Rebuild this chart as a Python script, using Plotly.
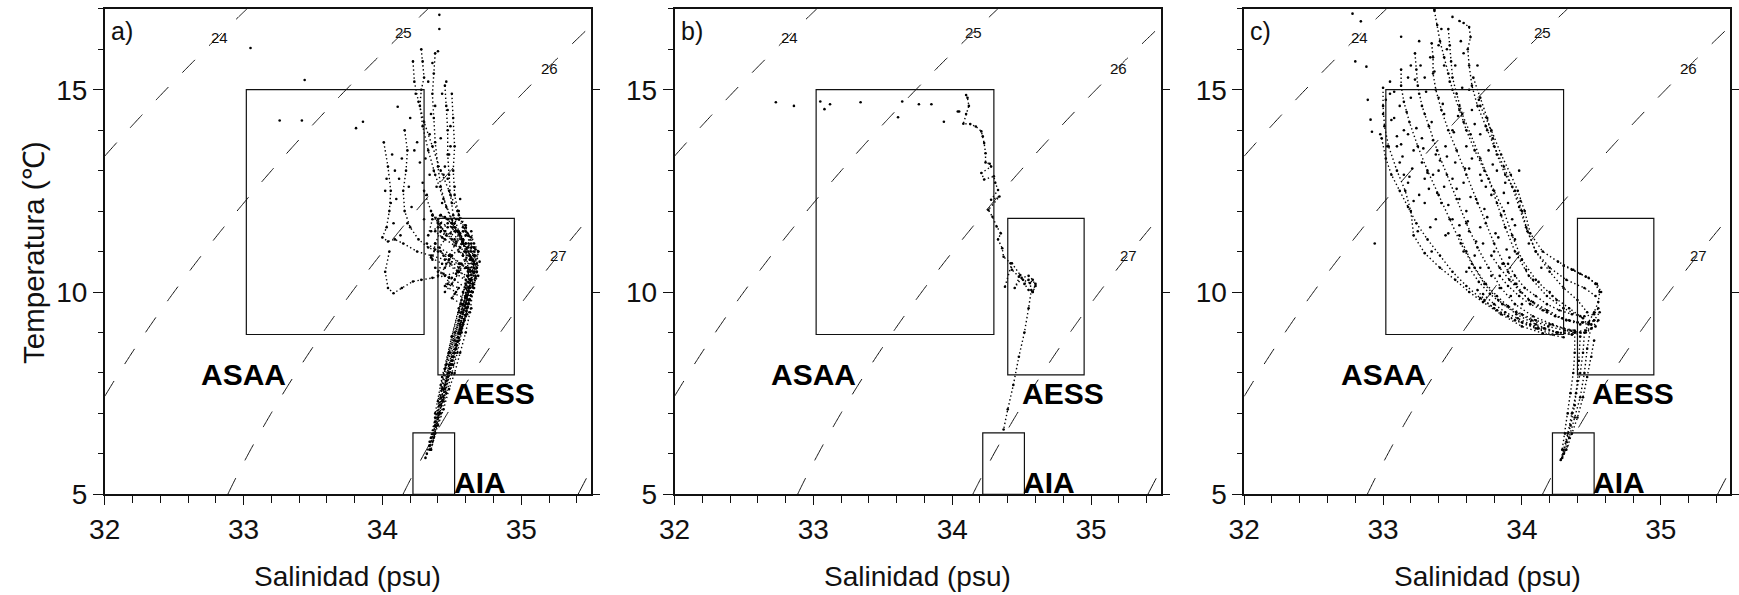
import numpy as np
import plotly.graph_objects as go

# ---------------------------------------------------------------- axes
S_RANGE = [32, 35.5]
T_RANGE = [5, 17]
S_TICKS = [32, 33, 34, 35]
T_TICKS = [5, 10, 15]
SIGMA_LEVELS = [24, 25, 26, 27, 28]

# isopycnal labels (sigma-t)
sigma_label_text = ["24", "25", "26", "27"]
sigma_label_S = [32.83, 34.15, 35.20, 35.27]
sigma_label_T = [16.28, 16.42, 15.52, 10.89]

# water masses: boxes and labels
mass_names = ["ASAA", "AESS", "AIA"]
mass_S_min = [33.02, 34.40, 34.22]
mass_S_max = [34.30, 34.95, 34.52]
mass_T_min = [8.95, 7.95, 5.00]
mass_T_max = [15.00, 11.82, 6.52]
mass_label_S = [33.00, 34.80, 34.70]
mass_label_T = [7.97, 7.49, 5.28]

panel_tags = ["a)", "b)", "c)"]

# ---------------------------------------------------------------- CTD casts (salinity, temperature)
casts_a = [
    ([34.28, 34.29, 34.30, 34.28, 34.27, 34.29, 34.33, 34.38, 34.44, 34.50, 34.56, 34.60, 34.62, 34.60, 34.56, 34.50, 34.44, 34.39, 34.35],
     [16.0, 15.7, 15.3, 15.0, 14.6, 14.1, 13.5, 12.9, 12.3, 11.8, 11.4, 11.0, 10.5, 9.9, 9.1, 8.2, 7.4, 6.7, 6.1]),
    ([34.38, 34.37, 34.36, 34.37, 34.38, 34.40, 34.42, 34.46, 34.52, 34.58, 34.63, 34.64, 34.60, 34.53, 34.46, 34.41, 34.37],
     [15.9, 15.4, 14.9, 14.3, 13.7, 13.1, 12.6, 12.1, 11.6, 11.2, 10.8, 10.3, 9.6, 8.7, 7.8, 7.0, 6.4]),
    ([34.45, 34.46, 34.47, 34.47, 34.48, 34.49, 34.51, 34.55, 34.60, 34.66, 34.68, 34.64, 34.58, 34.50, 34.44],
     [15.1, 14.6, 14.0, 13.4, 12.9, 12.4, 11.9, 11.5, 11.2, 11.0, 10.6, 10.0, 9.2, 8.2, 7.3]),
    ([34.50, 34.51, 34.52, 34.51, 34.52, 34.55, 34.60, 34.64, 34.66, 34.62, 34.55, 34.47],
     [14.9, 14.3, 13.6, 13.0, 12.4, 11.9, 11.5, 11.1, 10.7, 10.0, 9.0, 8.0]),
    ([34.16, 34.18, 34.17, 34.15, 34.16, 34.20, 34.26, 34.33, 34.40, 34.48, 34.56, 34.62, 34.63, 34.58],
     [14.0, 13.5, 13.0, 12.5, 12.0, 11.6, 11.3, 11.1, 11.0, 10.9, 10.7, 10.5, 10.1, 9.5]),
    ([34.01, 34.04, 34.06, 34.05, 34.03, 34.00, 34.04, 34.09, 34.15, 34.25, 34.35, 34.45, 34.55, 34.61],
     [13.7, 13.1, 12.5, 12.0, 11.6, 11.35, 11.25, 11.3, 11.2, 11.0, 10.9, 10.8, 10.7, 10.6]),
    ([34.05, 34.02, 34.04, 34.08, 34.14, 34.22, 34.28, 34.36, 34.45, 34.54, 34.60],
     [11.0, 10.5, 10.1, 9.97, 10.1, 10.26, 10.3, 10.35, 10.4, 10.5, 10.6]),
    ([34.22, 34.23, 34.26, 34.30, 34.36, 34.42, 34.48, 34.54, 34.60, 34.64, 34.62, 34.57, 34.50, 34.43, 34.38],
     [15.7, 15.2, 14.7, 14.2, 13.6, 13.0, 12.5, 12.0, 11.6, 11.2, 10.6, 9.8, 8.9, 7.9, 7.0]),
    ([34.36, 34.40, 34.45, 34.52, 34.60, 34.66, 34.69, 34.66, 34.60, 34.55, 34.50, 34.45, 34.42, 34.38, 34.35, 34.32],
     [11.9, 11.7, 11.5, 11.3, 11.2, 11.1, 11.0, 10.6, 10.2, 9.6, 8.9, 8.1, 7.4, 6.8, 6.4, 6.0]),
    ([34.33, 34.36, 34.42, 34.50, 34.58, 34.63, 34.65, 34.60, 34.52, 34.46, 34.40],
     [11.4, 11.8, 11.9, 11.7, 11.3, 10.9, 10.5, 9.9, 9.0, 8.2, 7.3]),
    ([34.40, 34.45, 34.50, 34.56, 34.60, 34.64, 34.66, 34.63, 34.57, 34.49, 34.43, 34.38, 34.34],
     [10.4, 10.6, 10.9, 11.1, 11.4, 11.5, 11.1, 10.3, 9.5, 8.5, 7.6, 6.9, 6.3]),
    ([34.30, 34.35, 34.42, 34.50, 34.58, 34.62, 34.61, 34.56, 34.50, 34.44],
     [12.5, 12.0, 11.6, 11.3, 10.9, 10.4, 9.9, 9.2, 8.4, 7.6]),
    ([34.45, 34.50, 34.55, 34.60, 34.64, 34.67, 34.62, 34.55],
     [10.0, 10.2, 10.5, 10.8, 11.0, 10.9, 10.0, 9.0]),
    ([34.38, 34.42, 34.48, 34.55, 34.60, 34.60, 34.55, 34.48, 34.42],
     [11.2, 11.0, 10.8, 10.6, 10.3, 9.9, 9.3, 8.5, 7.7]),
    ([34.55, 34.58, 34.62, 34.66, 34.69, 34.68, 34.64, 34.60, 34.56, 34.52, 34.48, 34.44, 34.40, 34.37, 34.34],
     [11.8, 11.6, 11.4, 11.2, 11.0, 10.7, 10.3, 9.9, 9.4, 8.8, 8.2, 7.6, 7.0, 6.5, 6.1]),
    ([34.42, 34.47, 34.52, 34.57, 34.62, 34.65, 34.67, 34.64, 34.59, 34.53, 34.47, 34.42],
     [11.9, 11.8, 11.6, 11.3, 11.0, 10.8, 10.4, 9.9, 9.3, 8.6, 7.9, 7.2]),
    ([34.36, 34.38, 34.42, 34.47, 34.52, 34.58, 34.63, 34.66, 34.62, 34.56, 34.50, 34.45, 34.40, 34.36],
     [10.8, 11.2, 11.5, 11.7, 11.5, 11.2, 10.9, 10.5, 9.8, 9.0, 8.3, 7.6, 6.9, 6.3]),
    ([34.50, 34.54, 34.58, 34.62, 34.66, 34.68, 34.65, 34.61, 34.57, 34.52, 34.47],
     [11.7, 11.5, 11.3, 11.1, 10.9, 10.5, 10.0, 9.6, 9.1, 8.5, 7.9]),
    ([34.35, 34.40, 34.46, 34.53, 34.59, 34.64, 34.68, 34.66, 34.62, 34.58, 34.53, 34.48, 34.43, 34.38, 34.34, 34.31],
     [11.5, 11.6, 11.4, 11.2, 11.0, 10.8, 10.5, 10.1, 9.7, 9.2, 8.6, 8.0, 7.3, 6.7, 6.2, 5.9]),
    ([34.44, 34.49, 34.55, 34.61, 34.65, 34.63, 34.59, 34.55, 34.51],
     [10.9, 10.7, 10.5, 10.4, 10.2, 9.8, 9.3, 8.8, 8.2]),
    ([34.36, 34.42, 34.38, 34.45, 34.41, 34.50, 34.46, 34.55, 34.52, 34.60],
     [11.9, 11.7, 11.5, 11.3, 11.1, 10.9, 10.7, 10.5, 10.3, 10.1]),
    ([34.40, 34.47, 34.43, 34.52, 34.48, 34.57, 34.53, 34.62, 34.58, 34.63],
     [11.8, 11.6, 11.35, 11.15, 10.9, 10.7, 10.45, 10.25, 10.0, 9.8]),
    ([34.45, 34.52, 34.49, 34.58, 34.55, 34.64, 34.60, 34.67, 34.62, 34.60],
     [11.85, 11.7, 11.45, 11.25, 11.0, 10.85, 10.6, 10.35, 10.1, 9.7]),
    ([34.32, 34.38, 34.35, 34.43, 34.40, 34.48, 34.45, 34.53, 34.50, 34.57, 34.55],
     [11.2, 11.05, 10.85, 10.7, 10.5, 10.35, 10.15, 10.0, 9.85, 9.7, 9.5]),
    ([34.50, 34.56, 34.53, 34.61, 34.58, 34.66, 34.63, 34.69, 34.65],
     [11.6, 11.45, 11.25, 11.1, 10.9, 10.75, 10.55, 10.4, 10.15]),
    ([34.38, 34.44, 34.50, 34.47, 34.55, 34.52, 34.60, 34.57, 34.64, 34.61],
     [10.6, 10.45, 10.35, 10.2, 10.1, 9.95, 9.85, 9.7, 9.6, 9.45]),
    ([34.55, 34.60, 34.58, 34.64, 34.62, 34.67, 34.66, 34.70, 34.68],
     [11.8, 11.65, 11.5, 11.35, 11.2, 11.05, 10.9, 10.75, 10.6]),
    ([34.62, 34.60, 34.57, 34.54, 34.50, 34.46, 34.42, 34.38, 34.35],
     [9.8, 9.4, 9.0, 8.5, 8.0, 7.5, 7.0, 6.5, 6.1]),
    ([34.58, 34.56, 34.53, 34.49, 34.45, 34.41, 34.38, 34.34],
     [9.7, 9.2, 8.7, 8.2, 7.7, 7.2, 6.7, 6.2]),
    ([34.65, 34.63, 34.60, 34.56, 34.52, 34.48, 34.44, 34.40],
     [10.0, 9.5, 9.0, 8.5, 8.0, 7.6, 7.1, 6.7]),
]
dots_a_S = [33.05, 33.44, 33.26, 33.42, 33.81, 33.86, 34.11, 34.41, 34.41, 34.40, 34.36, 34.33, 34.35, 34.42,
            34.43, 34.46, 34.47, 34.49, 34.34, 34.31, 34.12, 34.10, 34.14, 34.19, 34.21, 34.09, 34.06, 34.03,
            34.20, 34.25, 34.47, 34.50, 34.53, 34.45, 34.39, 34.30, 34.18, 34.24, 34.27, 34.32, 34.34, 34.38,
            34.44, 34.48, 34.52, 34.55, 34.13, 34.08, 34.02, 34.07, 34.23, 34.29, 34.37, 34.43, 34.49, 34.56]
dots_a_T = [16.03, 15.24, 14.24, 14.24, 14.05, 14.21, 14.58, 16.85, 16.50, 15.95, 15.66, 15.20, 14.40, 13.80,
            14.90, 15.20, 14.50, 13.60, 12.90, 13.30, 12.80, 12.30, 13.30, 12.60, 12.10, 13.00, 12.20, 12.80,
            14.30, 13.70, 12.80, 12.20, 11.80, 13.10, 12.60, 11.80, 11.70, 14.90, 13.20, 12.40, 13.90, 14.60,
            12.90, 13.40, 12.60, 12.00, 11.40, 11.70, 12.50, 13.40, 13.50, 12.70, 13.00, 12.20, 14.10, 12.30]

casts_b = [
    ([34.10, 34.11, 34.12, 34.10, 34.08, 34.13, 34.17, 34.21, 34.22, 34.23, 34.24, 34.24, 34.27, 34.28, 34.21, 34.23,
      34.30, 34.31, 34.33, 34.28, 34.34, 34.26, 34.29, 34.32, 34.35, 34.33, 34.36, 34.37, 34.42, 34.43, 34.48, 34.51,
      34.56, 34.57, 34.55, 34.52, 34.48, 34.44, 34.40, 34.37],
     [14.87, 14.80, 14.60, 14.40, 14.16, 14.15, 14.09, 13.97, 13.85, 13.68, 13.43, 13.20, 13.17, 13.10, 12.94, 12.78,
      12.86, 12.70, 12.52, 12.28, 12.36, 12.03, 11.86, 11.62, 11.45, 11.30, 11.08, 10.87, 10.71, 10.55, 10.38, 10.30,
      10.22, 10.05, 9.60, 9.00, 8.40, 7.70, 7.10, 6.60]),
    ([34.38, 34.43, 34.49, 34.45, 34.50, 34.55, 34.58, 34.60, 34.58, 34.55, 34.52, 34.55, 34.60, 34.58],
     [10.13, 10.71, 10.42, 10.10, 10.35, 10.40, 10.30, 10.15, 10.00, 10.05, 10.20, 10.30, 10.20, 10.00]),
]
dots_b_S = [32.73, 32.86, 33.05, 33.08, 33.12, 33.34, 33.61, 33.64, 33.76, 33.85, 33.94, 34.04, 34.05]
dots_b_T = [14.69, 14.60, 14.71, 14.52, 14.64, 14.69, 14.32, 14.71, 14.64, 14.64, 14.21, 14.46, 14.46]

casts_c = [
    ([33.55, 33.58, 33.62, 33.63, 33.61, 33.62, 33.64, 33.68, 33.74, 33.80, 33.87, 33.93, 33.98, 34.03, 34.10, 34.20, 34.30, 34.40, 34.47],
     [16.7, 16.65, 16.55, 16.3, 16.0, 15.6, 15.1, 14.6, 14.1, 13.6, 13.1, 12.6, 12.1, 11.6, 11.0, 10.5, 10.1, 9.8, 9.5]),
    ([33.37, 33.39, 33.41, 33.44, 33.47, 33.50, 33.55, 33.60, 33.66, 33.73, 33.80, 33.87, 33.93, 34.00, 34.10, 34.22, 34.34, 34.44],
     [16.95, 16.6, 16.2, 15.8, 15.4, 15.0, 14.5, 14.0, 13.5, 13.0, 12.5, 12.0, 11.4, 10.8, 10.3, 9.9, 9.6, 9.35]),
    ([33.47, 33.48, 33.49, 33.50, 33.53, 33.57, 33.63, 33.70, 33.76, 33.82, 33.88, 33.95, 34.05, 34.18, 34.30, 34.42],
     [16.5, 16.1, 15.7, 15.3, 14.9, 14.4, 13.9, 13.3, 12.8, 12.2, 11.6, 11.0, 10.4, 9.9, 9.6, 9.4]),
    ([33.35, 33.36, 33.36, 33.38, 33.42, 33.47, 33.53, 33.60, 33.67, 33.74, 33.80, 33.87, 33.95, 34.05, 34.18, 34.32, 34.42],
     [16.15, 15.8, 15.4, 15.0, 14.5, 14.0, 13.5, 12.9, 12.3, 11.7, 11.2, 10.7, 10.2, 9.8, 9.5, 9.3, 9.2]),
    ([33.23, 33.24, 33.25, 33.28, 33.33, 33.39, 33.46, 33.53, 33.60, 33.68, 33.76, 33.85, 33.95, 34.08, 34.22, 34.35],
     [15.9, 15.5, 15.1, 14.6, 14.1, 13.5, 12.9, 12.3, 11.7, 11.1, 10.6, 10.1, 9.7, 9.4, 9.2, 9.05]),
    ([33.13, 33.13, 33.15, 33.19, 33.25, 33.32, 33.40, 33.48, 33.56, 33.64, 33.73, 33.83, 33.96, 34.10, 34.25, 34.36],
     [15.5, 15.1, 14.7, 14.2, 13.6, 13.0, 12.4, 11.8, 11.2, 10.7, 10.2, 9.8, 9.45, 9.2, 9.0, 8.95]),
    ([33.00, 33.00, 33.01, 33.04, 33.10, 33.16, 33.20, 33.22, 33.30, 33.41, 33.52, 33.62, 33.72, 33.85, 34.00, 34.15, 34.30],
     [15.05, 14.6, 14.1, 13.6, 13.0, 12.5, 12.0, 11.4, 10.96, 10.6, 10.3, 10.0, 9.75, 9.45, 9.15, 8.98, 8.88]),
    ([33.65, 33.70, 33.75, 33.79, 33.82, 33.88, 33.95, 34.00, 34.04, 34.10, 34.20, 34.32, 34.45, 34.53],
     [15.3, 14.8, 14.3, 13.8, 13.4, 12.9, 12.5, 12.0, 11.5, 11.0, 10.6, 10.3, 10.1, 9.9]),
    ([33.70, 33.78, 33.85, 33.92, 33.97, 34.02, 34.06, 34.15, 34.26, 34.37, 34.46, 34.54, 34.57],
     [14.6, 14.0, 13.4, 12.9, 12.5, 12.0, 11.45, 11.0, 10.75, 10.55, 10.38, 10.2, 10.0]),
    ([32.99, 33.02, 33.06, 33.12, 33.18, 33.24, 33.32, 33.41, 33.50, 33.60, 33.70, 33.82, 33.95, 34.10, 34.22],
     [13.8, 13.3, 12.9, 12.5, 12.1, 11.7, 11.3, 10.9, 10.5, 10.15, 9.85, 9.55, 9.3, 9.1, 8.95]),
    ([34.30, 34.36, 34.42, 34.48, 34.53, 34.56, 34.55, 34.52, 34.48, 34.46],
     [10.65, 10.55, 10.45, 10.35, 10.2, 10.0, 9.75, 9.5, 9.25, 9.05]),
    ([33.55, 33.60, 33.66, 33.74, 33.82, 33.90, 34.00, 34.10, 34.20, 34.30, 34.38],
     [11.4, 11.0, 10.6, 10.2, 9.9, 9.65, 9.45, 9.3, 9.2, 9.1, 9.05]),
    ([33.68, 33.73, 33.80, 33.90, 34.00, 34.12, 34.25, 34.38, 34.50, 34.55],
     [10.05, 9.8, 9.6, 9.4, 9.25, 9.1, 9.0, 9.0, 9.1, 9.3]),
    ([33.90, 33.95, 34.02, 34.10, 34.18, 34.27, 34.36, 34.45, 34.52, 34.55],
     [10.7, 10.4, 10.1, 9.9, 9.7, 9.55, 9.45, 9.4, 9.45, 9.6]),
    ([33.78, 33.84, 33.91, 33.99, 34.08, 34.18, 34.29, 34.40, 34.48, 34.52],
     [10.9, 10.6, 10.3, 10.0, 9.75, 9.55, 9.35, 9.25, 9.2, 9.3]),
    ([33.62, 33.69, 33.77, 33.86, 33.96, 34.07, 34.19, 34.31, 34.42],
     [10.6, 10.25, 9.95, 9.7, 9.5, 9.3, 9.15, 9.05, 9.0]),
    ([33.72, 33.80, 33.88, 33.97, 34.06, 34.16, 34.26, 34.36, 34.46, 34.53],
     [9.95, 9.7, 9.5, 9.35, 9.2, 9.1, 9.0, 8.95, 9.0, 9.15]),
    ([33.84, 33.90, 33.98, 34.06, 34.15, 34.24, 34.34, 34.44, 34.52, 34.56],
     [10.4, 10.15, 9.9, 9.7, 9.55, 9.4, 9.3, 9.25, 9.3, 9.5]),
    ([34.45, 34.44, 34.42, 34.39, 34.36, 34.33, 34.30, 34.28],
     [9.0, 8.5, 8.0, 7.5, 7.0, 6.5, 6.1, 5.85]),
    ([34.50, 34.47, 34.45, 34.42, 34.38, 34.34, 34.30],
     [9.2, 8.6, 8.0, 7.4, 6.9, 6.4, 6.0]),
    ([34.38, 34.38, 34.37, 34.35, 34.33, 34.31, 34.29],
     [9.0, 8.5, 8.0, 7.5, 7.0, 6.5, 6.1]),
    ([34.52, 34.50, 34.47, 34.44, 34.40, 34.36, 34.32, 34.29],
     [8.8, 8.4, 7.9, 7.4, 6.9, 6.5, 6.1, 5.9]),
    ([34.42, 34.41, 34.40, 34.38, 34.35, 34.32, 34.30],
     [8.9, 8.3, 7.8, 7.2, 6.7, 6.3, 6.0]),
]
dots_c_S = [32.78, 32.84, 32.80, 32.88, 33.13, 32.89, 32.91, 32.92, 32.94, 33.37, 33.05, 33.08, 33.10, 33.18,
            33.20, 33.30, 33.28, 33.36, 33.45, 33.50, 33.30, 33.38, 33.45, 33.55, 33.60, 33.70, 33.78, 33.85,
            33.55, 33.62, 33.68, 33.58, 33.44, 33.30, 33.18, 33.26, 33.50, 33.42, 33.15, 33.25, 33.35, 33.60,
            33.70, 33.90, 33.95, 33.98, 33.60, 33.75, 33.90, 34.00,
            33.05, 33.12, 33.15, 33.22, 33.28, 33.35, 33.40, 33.48, 33.52, 33.46, 33.34, 33.20, 33.26, 33.38,
            33.44, 33.52, 33.58, 33.64, 33.70, 33.74, 33.68, 33.62, 33.50, 33.42, 33.34, 33.58, 33.66, 33.72,
            33.80, 33.86, 33.78, 33.70, 33.84, 33.92, 34.00, 34.08, 34.14, 34.20, 34.25, 33.96, 34.05, 33.93,
            33.88, 33.82, 33.76, 33.12, 33.18, 33.26, 33.30, 33.40, 33.00, 32.98, 33.03, 33.58, 33.64, 33.50,
            33.44, 33.27, 33.40, 33.56,
            33.02, 33.06, 33.10, 33.14, 33.17, 33.21, 33.24, 33.29, 33.32, 33.36, 33.39, 33.43, 33.47, 33.51,
            33.55, 33.59, 33.63, 33.67, 33.71, 33.75, 33.08, 33.13, 33.19, 33.23, 33.31, 33.37, 33.41, 33.47,
            33.53, 33.57, 33.61, 33.66, 33.73, 33.79, 33.83, 33.87, 33.91, 33.95, 33.99, 34.03, 33.22, 33.33,
            33.46, 33.54, 33.62, 33.69, 33.81, 33.89, 33.97, 34.12]
dots_c_T = [16.88, 16.69, 15.70, 15.57, 16.31, 14.75, 14.26, 13.96, 11.20, 16.98, 14.90, 14.30, 13.60, 13.90,
            14.80, 14.40, 13.20, 12.90, 13.60, 12.80, 12.20, 11.80, 11.40, 12.30, 13.60, 12.90, 12.40, 11.90,
            14.60, 15.00, 15.60, 15.90, 15.60, 15.30, 15.30, 16.20, 16.80, 16.50, 12.90, 11.50, 11.00, 10.50,
            11.60, 12.20, 11.30, 13.00, 12.00, 14.00, 10.50, 10.80,
            15.20, 14.60, 14.00, 13.50, 13.80, 14.20, 14.80, 15.20, 15.60, 16.00, 15.80, 15.60, 14.90, 13.40,
            12.60, 13.20, 12.70, 13.30, 13.90, 12.60, 12.20, 11.50, 11.80, 12.20, 11.60, 11.00, 10.90, 11.20,
            11.00, 10.70, 10.40, 10.60, 10.10, 9.90, 9.70, 10.30, 10.60, 10.00, 9.80, 10.20, 11.20, 11.80,
            12.70, 13.00, 13.50, 13.20, 12.70, 12.40, 12.80, 13.00, 14.40, 13.90, 13.60, 14.20, 14.50, 14.00,
            14.40, 15.60, 16.10, 16.20,
            14.75, 14.25, 13.85, 13.35, 14.45, 13.05, 14.05, 13.55, 12.95, 13.75, 12.45, 14.65, 12.15, 13.95,
            11.65, 13.05, 12.35, 11.25, 12.75, 11.85, 14.95, 13.65, 12.85, 15.25, 14.95, 15.45, 13.25, 11.45,
            12.55, 15.05, 11.75, 14.15, 12.05, 13.15, 11.35, 12.45, 10.85, 11.65, 12.25, 10.55, 12.25, 12.55,
            13.35, 14.35, 13.05, 14.75, 11.45, 11.05, 10.95, 10.25]

panels = [
    (casts_a, dots_a_S, dots_a_T),
    (casts_b, dots_b_S, dots_b_T),
    (casts_c, dots_c_S, dots_c_T),
]


# ---------------------------------------------------------------- UNESCO EOS-80 (p = 0)
def sigma_t(S, T):
    rho_w = (999.842594 + 6.793952e-2 * T - 9.095290e-3 * T**2 + 1.001685e-4 * T**3
             - 1.120083e-6 * T**4 + 6.536332e-9 * T**5)
    A = 8.24493e-1 - 4.0899e-3 * T + 7.6438e-5 * T**2 - 8.2467e-7 * T**3 + 5.3875e-9 * T**4
    B = -5.72466e-3 + 1.0227e-4 * T - 1.6546e-6 * T**2
    C = 4.8314e-4
    return rho_w + A * S + B * S**1.5 + C * S**2 - 1000.0


s_grid = np.linspace(S_RANGE[0], S_RANGE[1], 176)
t_grid = np.linspace(T_RANGE[0], T_RANGE[1], 181)
SS, TT = np.meshgrid(s_grid, t_grid)
sig = sigma_t(SS, TT)

# ---------------------------------------------------------------- layout geometry (pixels)
W, H = 1739, 595
panel_left = [104.7, 674.5, 1244.2]
panel_width = 486.0
plot_top, plot_bottom = 8.8, 494.3

FONT = "Liberation Sans, Arial, sans-serif"
INK = "#111111"

fig = go.Figure()
layout = dict(
    width=W, height=H,
    margin=dict(l=0, r=0, t=0, b=0, pad=0, autoexpand=False),
    paper_bgcolor="white", plot_bgcolor="white", showlegend=False,
    font=dict(family=FONT, color=INK),
)

y_dom = [(H - plot_bottom) / H, (H - plot_top) / H]
annotations = []
shapes = []

for i, (casts, dS, dT) in enumerate(panels):
    n = i + 1
    xa = "x" if n == 1 else f"x{n}"
    ya = "y" if n == 1 else f"y{n}"
    yr = f"y{n + 3}"
    x_dom = [panel_left[i] / W, (panel_left[i] + panel_width) / W]

    layout[f"xaxis{'' if n == 1 else n}"] = dict(
        domain=x_dom, anchor=ya, range=S_RANGE, tickvals=S_TICKS,
        ticks="outside", ticklen=9, tickwidth=1.2, tickcolor=INK,
        minor=dict(dtick=0.2, tick0=32, ticks="outside", ticklen=7, tickwidth=1.2, tickcolor=INK),
        showline=True, linecolor=INK, linewidth=1.5, mirror=True,
        showgrid=False, zeroline=False, automargin=False,
        tickfont=dict(size=28, family=FONT, color=INK),
    )
    layout[f"yaxis{'' if n == 1 else n}"] = dict(
        domain=y_dom, anchor=xa, range=T_RANGE, tickvals=T_TICKS,
        ticks="outside", ticklen=10, tickwidth=1.2, tickcolor=INK,
        minor=dict(dtick=1, tick0=5, ticks="outside", ticklen=5, tickwidth=1.2, tickcolor=INK),
        showline=True, linecolor=INK, linewidth=1.5,
        showgrid=False, zeroline=False, automargin=False,
        tickfont=dict(size=28, family=FONT, color=INK),
    )
    layout[f"yaxis{n + 3}"] = dict(
        overlaying=ya, anchor=xa, side="right", range=T_RANGE, tickvals=T_TICKS,
        ticks="outside", ticklen=8, tickwidth=1.2, tickcolor=INK,
        showticklabels=False, showline=True, linecolor=INK, linewidth=1.5,
        showgrid=False, zeroline=False, automargin=False,
    )

    # isopycnals
    fig.add_trace(go.Contour(
        x=s_grid, y=t_grid, z=sig, xaxis=xa, yaxis=ya,
        contours=dict(start=SIGMA_LEVELS[0], end=SIGMA_LEVELS[-1], size=1, coloring="lines"),
        colorscale=[[0, INK], [1, INK]], showscale=False,
        line=dict(width=1, dash="18px,20px"), hoverinfo="skip",
    ))

    # water-mass boxes
    for k in range(len(mass_names)):
        shapes.append(dict(
            type="rect", xref=xa, yref=ya,
            x0=mass_S_min[k], x1=mass_S_max[k], y0=mass_T_min[k], y1=mass_T_max[k],
            line=dict(color=INK, width=1.2), layer="above",
        ))
        annotations.append(dict(
            xref=xa, yref=ya, x=mass_label_S[k], y=mass_label_T[k], text=f"<b>{mass_names[k]}</b>",
            showarrow=False, font=dict(size=30, family=FONT, color="black"),
            xanchor="center", yanchor="middle",
        ))

    # CTD data
    for s_vals, t_vals in casts:
        fig.add_trace(go.Scatter(
            x=s_vals, y=t_vals, xaxis=xa, yaxis=ya, mode="lines+markers",
            line=dict(color="black", width=1.4, dash="1.4px,2.6px"),
            marker=dict(color="black", size=2.6), hoverinfo="skip",
        ))
    fig.add_trace(go.Scatter(
        x=dS, y=dT, xaxis=xa, yaxis=ya, mode="markers",
        marker=dict(color="black", size=2.6), hoverinfo="skip",
    ))

    # dummy trace to attach the right-hand axis
    fig.add_trace(go.Scatter(x=[None], y=[None], xaxis=xa, yaxis=yr, hoverinfo="skip"))

    # isopycnal labels
    for k in range(len(sigma_label_text)):
        annotations.append(dict(
            xref=xa, yref=ya, x=sigma_label_S[k], y=sigma_label_T[k], text=sigma_label_text[k],
            showarrow=False, font=dict(size=15, family=FONT, color=INK),
            xanchor="center", yanchor="middle",
        ))

    # panel tag
    annotations.append(dict(
        xref=xa, yref=ya, x=32.03, y=16.85, text=panel_tags[i], showarrow=False,
        font=dict(size=25, family=FONT, color=INK), xanchor="left", yanchor="top",
    ))

    # x-axis title
    annotations.append(dict(
        xref="paper", yref="paper", x=(x_dom[0] + x_dom[1]) / 2, y=(H - 576) / H,
        text="Salinidad (psu)", showarrow=False,
        font=dict(size=28, family=FONT, color=INK), xanchor="center", yanchor="middle",
    ))

# y-axis title (first panel only)
annotations.append(dict(
    xref="paper", yref="paper", x=33 / W, y=(H - 253) / H, text="Temperatura (℃)",
    textangle=-90, showarrow=False, font=dict(size=29.5, family=FONT, color=INK),
    xanchor="center", yanchor="middle",
))

layout["annotations"] = annotations
layout["shapes"] = shapes
fig.update_layout(**layout)
fig.write_html("out.html")
